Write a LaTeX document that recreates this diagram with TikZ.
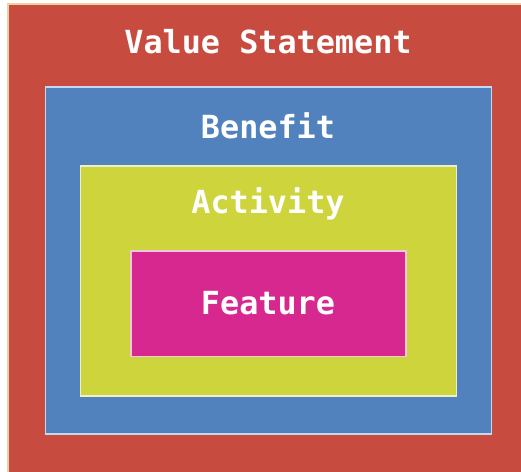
\documentclass[tikz,border=0pt]{standalone}
\usepackage{fontspec}
\setmonofont{DejaVu Sans Mono}
\definecolor{vred}{HTML}{C84B3F}
\definecolor{vtan}{HTML}{F2CFA0}
\definecolor{vblue}{HTML}{5182BE}
\definecolor{vblueb}{HTML}{C6D8F0}
\definecolor{vgreen}{HTML}{CDD43C}
\definecolor{vgreenb}{HTML}{EEF0C8}
\definecolor{vmag}{HTML}{D6288E}
\definecolor{vmagb}{HTML}{F0C8DC}
\tikzset{
  lbl/.style={text=white, font=\ttfamily\bfseries\fontsize{31.8}{38}\selectfont, inner sep=0pt},
  layer/.style={line width=1.5pt}
}
\begin{document}
\begin{tikzpicture}[x=1pt,y=1pt]
\useasboundingbox (0,0) rectangle (521,471);
\fill[white] (0,0) rectangle (521,471);
\clip (0,0) rectangle (521,471);
\draw[layer, fill=vred, draw=vtan, line width=2pt] (8,-10) rectangle (540,467);
\draw[layer, fill=vblue, draw=vblueb] (45.5,37) rectangle (491.5,384);
\draw[layer, fill=vgreen, draw=vgreenb] (80.5,75) rectangle (456.5,305);
\draw[layer, fill=vmag, draw=vmagb] (131,114.5) rectangle (406,220);
\node[lbl] (vs) at (268,429) {Value Statement};
\node[lbl] (ben) at (268,345) {Benefit};
\node[lbl] (act) at (268,267) {Activity};
\node[lbl] (feat) at (268,168) {Feature};
\end{tikzpicture}
\end{document}
